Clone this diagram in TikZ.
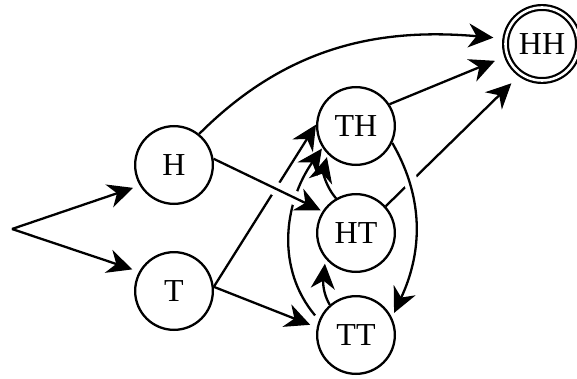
\documentclass[tikz,border=0pt]{standalone}
\usepackage{fontspec}
\setmainfont{Liberation Serif}
\usetikzlibrary{arrows.meta}
\begin{document}
\begin{tikzpicture}[x=1pt,y=1pt,
  state/.style={circle, draw, line width=2.3pt, minimum size=77.7pt, inner sep=0pt,
    font=\fontsize{32}{33}\selectfont},
  acc/.style={circle, draw, line width=2.2pt, double, double distance=2.6pt,
    minimum size=73pt, inner sep=0pt, outer sep=3.5pt,
    font=\fontsize{32}{33}\selectfont},
  edge/.style={-{Stealth[length=25pt,width=24pt,inset=8pt]}, line width=2.3pt},
  halo/.style={preaction={draw=white, line width=14pt, -, shorten <=12pt, shorten >=28pt}},
]
\useasboundingbox (0,0) rectangle (577,378);

\coordinate (S) at (12,149);
\node[state] (H) at (174,213) {H};
\node[state] (T) at (174,87) {T};
\node[state] (TH) at (356,252) {TH};
\node[state] (HT) at (356,145) {HT};
\node[state] (TT) at (356,43) {TT};
\node[acc] (HH) at (542,334) {HH};

\draw[edge, shorten >=7pt] (S) -- (H.211);
\draw[edge, shorten >=7pt] (S) -- (T.151);
\draw[edge, shorten >=9pt] (H.51) to[out=45,in=175] (HH.172);
\draw[edge] (T.6) -- (TH.178);
\draw[edge, shorten >=7pt] (T.6) -- (TT.169);
\draw[edge, shorten >=10pt] (TH.33) -- (HH.199);
\draw[edge, shorten >=10pt] (HT.42) -- (HH.234);
\draw[edge, shorten <=6pt, shorten >=1pt] (TT.158) to[out=130,in=-125] (TH.213);
\draw[edge, shorten >=3pt] (HT.120) to[out=130,in=-105] (TH.225);
\draw[edge, shorten >=5pt] (TT.131) to[out=120,in=-95] (HT.220);
\draw[edge, halo, shorten >=2pt] (H.9) -- (HT.147);
\draw[edge, halo, shorten >=5pt] (TH.-25) to[out=-60,in=65] (TT.26);
\end{tikzpicture}
\end{document}
